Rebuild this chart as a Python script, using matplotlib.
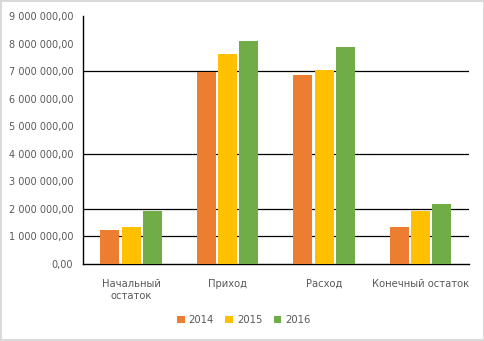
import numpy as np
import matplotlib
matplotlib.use('Agg')
import matplotlib.pyplot as plt
from matplotlib.ticker import FuncFormatter

categories = ['Начальный\nостаток', 'Приход', 'Расход', 'Конечный остаток']
years = ['2014', '2015', '2016']
v2014 = [1220000, 6960000, 6850000, 1330000]
v2015 = [1330000, 7620000, 7020000, 1910000]
v2016 = [1910000, 8090000, 7870000, 2160000]
grid_levels = [1000000, 2000000, 4000000, 7000000]

colors = ['#ED7D31', '#FFC000', '#70AD47']
TXT = '#595959'
plt.rcParams['font.family'] = ['DejaVu Sans']

fig = plt.figure(figsize=(4.85, 3.41), dpi=100)
fig.patch.set_edgecolor('#d9d9d9'); fig.patch.set_linewidth(1.5)
ax = fig.add_axes([0.171, 0.227, 0.796, 0.726])

x = np.arange(len(categories))
w = 0.197; step = 0.22
for i, (vals, c, lab) in enumerate(zip([v2014, v2015, v2016], colors, years)):
    ax.bar(x + (i - 1) * step, vals, width=w, color=c, label=lab, zorder=3)

for g in grid_levels:
    ax.axhline(g, color='black', lw=0.9, zorder=1)

ax.set_xlim(-0.5, len(categories) - 0.5)
ax.set_ylim(0, 9000000)
ax.set_yticks(np.arange(0, 9000001, 1000000))
ax.yaxis.set_major_formatter(FuncFormatter(lambda v, p: f'{v:,.2f}'.replace(',', ' ').replace('.', ',')))
ax.set_xticks(x)
ax.set_xticklabels(categories, linespacing=1.25)
ax.tick_params(axis='y', length=0, pad=7, labelsize=7, labelcolor=TXT)
ax.tick_params(axis='x', length=0, pad=11, labelsize=7.2, labelcolor=TXT)
for s in ['top', 'right']:
    ax.spines[s].set_visible(False)
ax.spines['left'].set_color('black'); ax.spines['bottom'].set_color('black')
ax.spines['left'].set_linewidth(1.0); ax.spines['bottom'].set_linewidth(1.0)

leg = fig.legend(loc='center', bbox_to_anchor=(0.503, 0.062), ncol=3, frameon=False,
                 fontsize=7.2, handlelength=0.75, handleheight=0.75, handletextpad=0.4,
                 columnspacing=1.15)
for t in leg.get_texts():
    t.set_color(TXT)

fig.savefig('out.png', dpi=100)
